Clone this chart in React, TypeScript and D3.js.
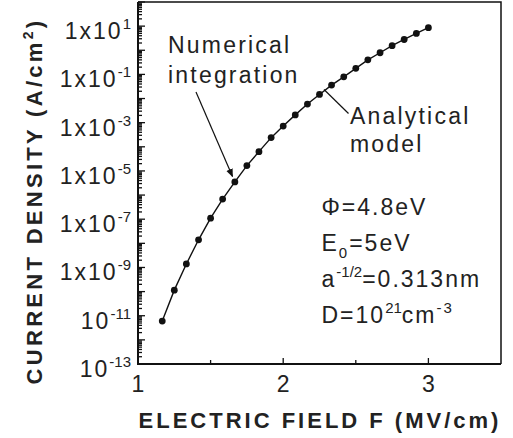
import React, { useEffect, useRef } from "react";
import * as d3 from "d3";

// electric field (MV/cm) and current density (A/cm^2)
const fieldValues = [
  1.167, 1.25, 1.333, 1.417, 1.5, 1.583, 1.667, 1.75, 1.833, 1.917, 2.0, 2.083,
  2.167, 2.25, 2.333, 2.417, 2.5, 2.583, 2.667, 2.75, 2.833, 2.917, 3.0,
];
const currentValues = [
  6.0e-12, 1.15e-10, 1.4e-9, 1.4e-8, 1.1e-7, 6.8e-7, 3.5e-6, 1.66e-5, 6.3e-5,
  2.4e-4, 7.2e-4, 2.1e-3, 5.9e-3, 1.48e-2, 3.6e-2, 7.9e-2, 0.178, 0.4, 0.79,
  1.55, 2.8, 5.0, 8.6,
];

const xTicks = [2, 3];
const xMinorTicks = [1.5, 2.5];
// labelled decades: [value, prefix, exponent]
const yLabels: [number, string, string][] = [
  [1e1, "1x10", "1"],
  [1e-1, "1x10", "-1"],
  [1e-3, "1x10", "-3"],
  [1e-5, "1x10", "-5"],
  [1e-7, "1x10", "-7"],
  [1e-9, "1x10", "-9"],
  [1e-11, "10", "-11"],
  [1e-13, "10", "-13"],
];

const FONT = "'Liberation Sans', Arial, sans-serif";

const App = () => {
  const ref = useRef<SVGSVGElement>(null);

  useEffect(() => {
    const svg = d3.select(ref.current);
    svg.selectAll("*").remove();

    const left = 138;
    const right = 501;
    const top = 2;
    const bottom = 364;

    const x = d3.scaleLinear().domain([1, 3.5]).range([left, right]);
    const y = d3.scaleLog().domain([1e-13, 1e2]).range([bottom, top]);

    // minor + major y ticks (inside)
    const yTickVals: number[] = [];
    for (let e = -13; e <= 1; e++) {
      for (let m = 1; m <= 9; m++) yTickVals.push(m * Math.pow(10, e));
    }
    yTickVals.push(1e2);
    svg
      .append("g")
      .selectAll("line")
      .data(yTickVals)
      .enter()
      .append("line")
      .attr("x1", left)
      .attr("x2", (d) => {
        const m = Math.round(d / Math.pow(10, Math.floor(Math.log10(d) + 1e-9)));
        return left + (m === 1 ? 7 : 4);
      })
      .attr("y1", (d) => y(d))
      .attr("y2", (d) => y(d))
      .attr("stroke", "#111")
      .attr("stroke-width", 1.3);

    // x ticks (inside)
    svg
      .append("g")
      .selectAll("line")
      .data(xTicks.concat(xMinorTicks))
      .enter()
      .append("line")
      .attr("x1", (d) => x(d))
      .attr("x2", (d) => x(d))
      .attr("y1", bottom)
      .attr("y2", (d) => bottom - (xTicks.includes(d) ? 6 : 4))
      .attr("stroke", "#111")
      .attr("stroke-width", 1.3);

    // frame
    svg
      .append("path")
      .attr("d", `M${left},${top}H${right}V${bottom}`)
      .attr("fill", "none")
      .attr("stroke", "#111")
      .attr("stroke-width", 1.5);
    svg
      .append("path")
      .attr("d", `M${left},${top}V${bottom}H${right}`)
      .attr("fill", "none")
      .attr("stroke", "#111")
      .attr("stroke-width", 2);

    // y tick labels
    yLabels.forEach(([v, pre, exp]) => {
      const t = svg
        .append("text")
        .attr("x", 131)
        .attr("y", y(v) + 13)
        .attr("text-anchor", "end")
        .style("font-family", FONT)
        .style("font-size", "23px")
        .style("letter-spacing", "2px")
        .attr("fill", "#222");
      t.append("tspan").text(pre);
      t.append("tspan")
        .attr("dy", -10)
        .style("font-size", "15px")
        .style("letter-spacing", "0px")
        .text(exp);
    });

    // x tick labels
    [1, 2, 3].forEach((v) => {
      svg
        .append("text")
        .attr("x", x(v))
        .attr("y", 392)
        .attr("text-anchor", "middle")
        .style("font-family", FONT)
        .style("font-size", "23px")
        .attr("fill", "#222")
        .text(v);
    });

    // axis titles
    svg
      .append("text")
      .attr("x", 320)
      .attr("y", 428)
      .attr("text-anchor", "middle")
      .style("font-family", FONT)
      .style("font-size", "22px")
      .style("font-weight", "bold")
      .style("letter-spacing", "3px")
      .attr("fill", "#222")
      .text("ELECTRIC FIELD F (MV/cm)");

    const yt = svg
      .append("text")
      .attr("transform", "translate(41.5,201) rotate(-90)")
      .attr("text-anchor", "middle")
      .style("font-family", FONT)
      .style("font-size", "22px")
      .style("font-weight", "bold")
      .style("letter-spacing", "3.3px")
      .attr("fill", "#222");
    yt.append("tspan").text("CURRENT DENSITY (A/cm");
    yt.append("tspan").attr("dy", -9).style("font-size", "14px").text("2");
    yt.append("tspan").attr("dy", 9).text(")");

    // curve and points
    const pts = fieldValues.map((f, i) => [f, currentValues[i]] as [number, number]);
    const line = d3
      .line<[number, number]>()
      .x((d) => x(d[0]))
      .y((d) => y(d[1]));
    svg
      .append("path")
      .attr("d", line(pts))
      .attr("fill", "none")
      .attr("stroke", "#111")
      .attr("stroke-width", 1.4);
    svg
      .append("g")
      .selectAll("circle")
      .data(pts)
      .enter()
      .append("circle")
      .attr("cx", (d) => x(d[0]))
      .attr("cy", (d) => y(d[1]))
      .attr("r", 3.4)
      .attr("fill", "#111");

    // annotations
    const defs = svg.append("defs");
    defs
      .append("marker")
      .attr("id", "arr")
      .attr("viewBox", "0 0 10 10")
      .attr("refX", 9)
      .attr("refY", 5)
      .attr("markerWidth", 7)
      .attr("markerHeight", 7)
      .attr("orient", "auto")
      .append("path")
      .attr("d", "M0,1L10,5L0,9Z")
      .attr("fill", "#111");

    const annText = (tx: number, ty: number, s: string) =>
      svg
        .append("text")
        .attr("x", tx)
        .attr("y", ty)
        .style("font-family", FONT)
        .style("font-size", "23px")
        .style("letter-spacing", "2.2px")
        .attr("fill", "#222")
        .text(s);

    annText(168, 53, "Numerical");
    annText(168, 83, "integration");
    svg
      .append("line")
      .attr("x1", 196)
      .attr("y1", 92)
      .attr("x2", 232.5)
      .attr("y2", 176.5)
      .attr("stroke", "#111")
      .attr("stroke-width", 1.2)
      .attr("marker-end", "url(#arr)");

    annText(350, 124, "Analytical");
    annText(350, 152, "model");
    svg
      .append("line")
      .attr("x1", 324)
      .attr("y1", 89.5)
      .attr("x2", 348.5)
      .attr("y2", 113.5)
      .attr("stroke", "#111")
      .attr("stroke-width", 1.2);

    // parameters
    const param = (ty: number) =>
      svg
        .append("text")
        .attr("x", 321.5)
        .attr("y", ty)
        .style("font-family", FONT)
        .style("font-size", "23px")
        .style("letter-spacing", "2px")
        .attr("fill", "#222");

    param(215).text("\u03A6=4.8eV");
    const e0 = param(251);
    e0.append("tspan").text("E");
    e0.append("tspan").attr("dy", 7).style("font-size", "15px").text("0");
    e0.append("tspan").attr("dy", -7).text("=5eV");
    const a = param(287);
    a.append("tspan").text("a");
    a.append("tspan").attr("dy", -10).style("font-size", "15px").style("letter-spacing", "0px").text("-1/2");
    a.append("tspan").attr("dy", 10).text("=0.313nm");
    const dd = param(323);
    dd.append("tspan").text("D=10");
    dd.append("tspan").attr("dy", -10).style("font-size", "15px").style("letter-spacing", "0px").text("21");
    dd.append("tspan").attr("dy", 10).text("cm");
    dd.append("tspan").attr("dy", -10).style("font-size", "15px").text("-3");
  }, []);

  return (
    <svg
      ref={ref}
      width={513}
      height={438}
      style={{ position: "absolute", left: 0, top: 0, background: "#fff" }}
    />
  );
};

export default App;
